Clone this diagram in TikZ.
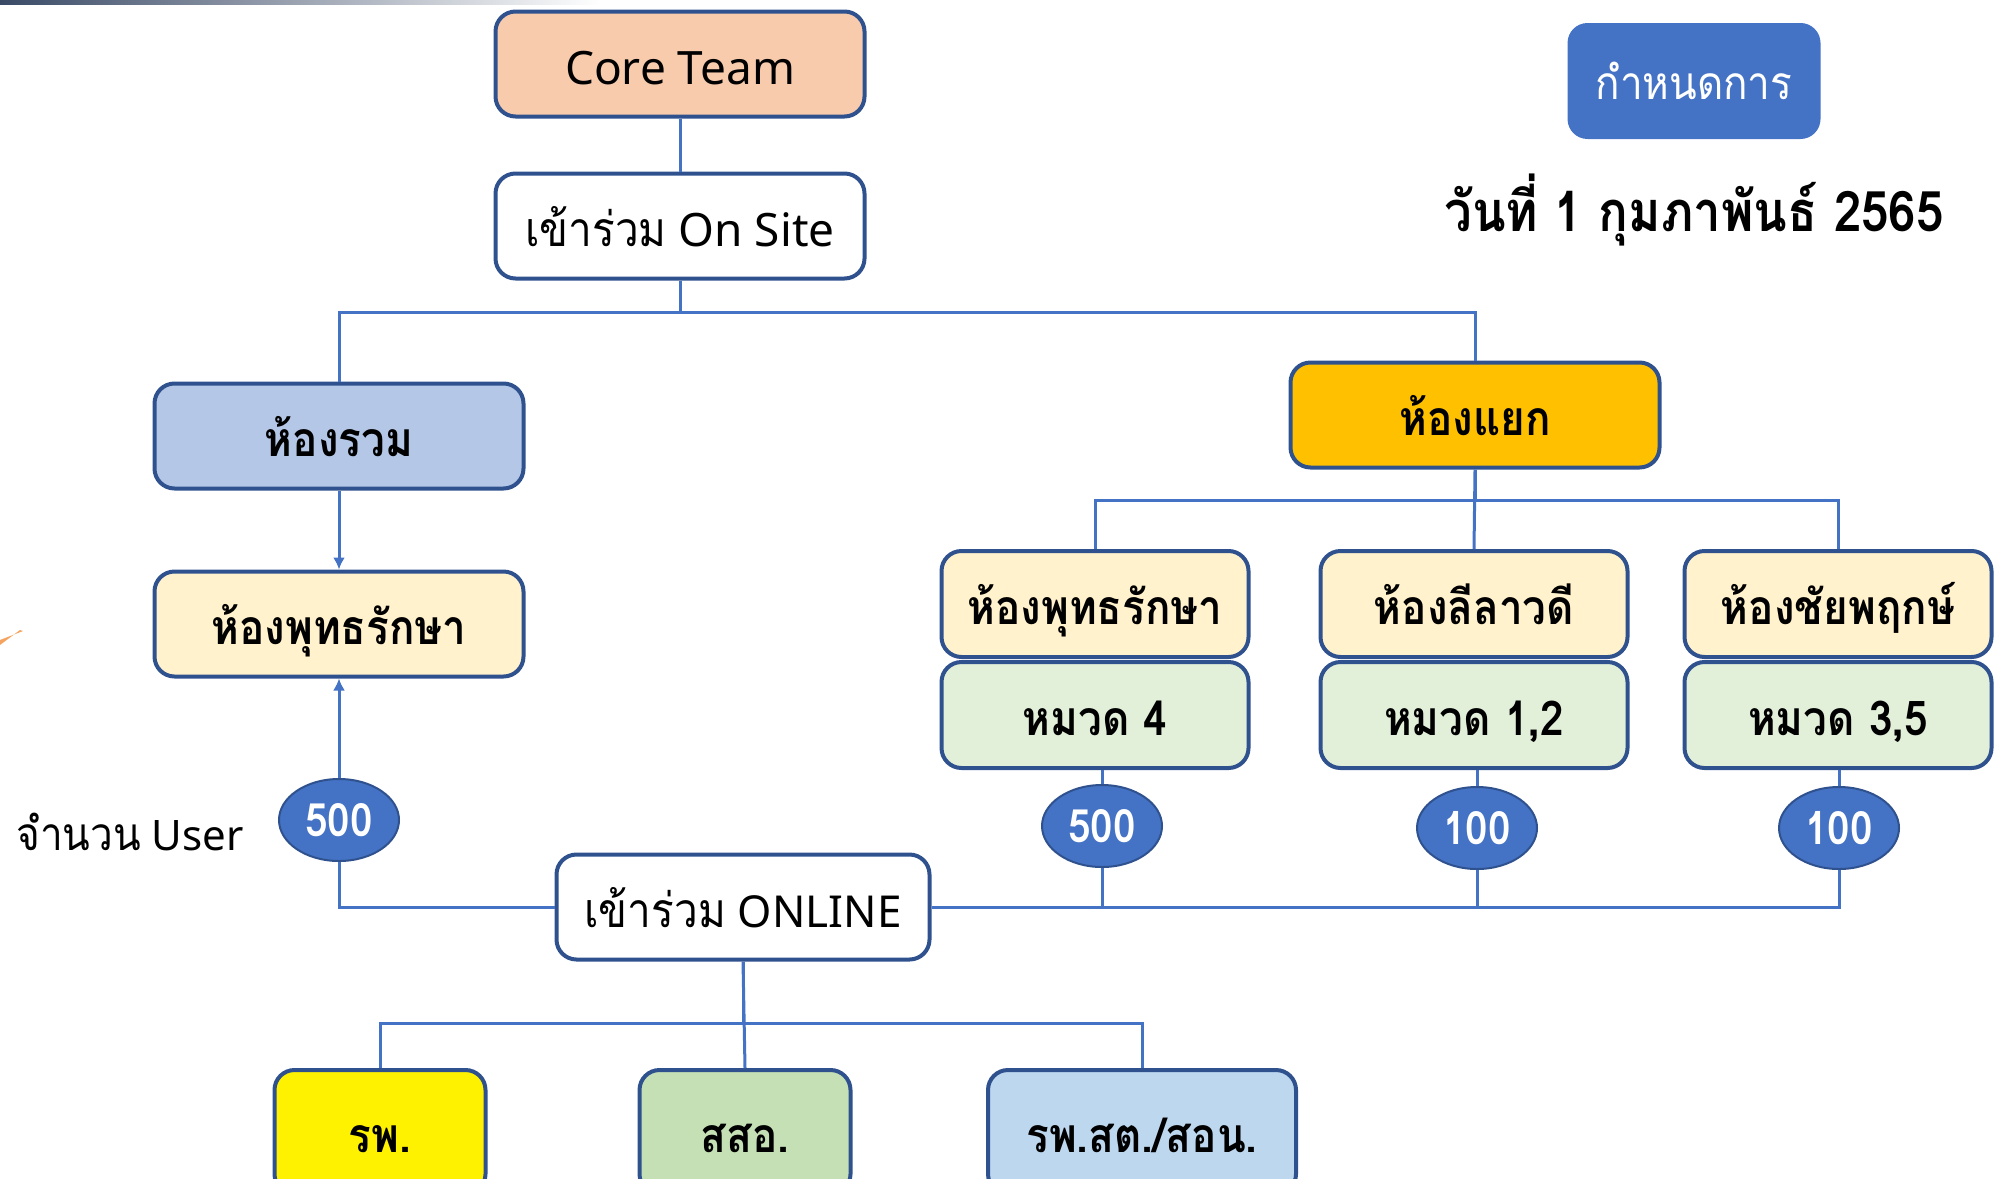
\documentclass[tikz,border=0pt]{standalone}
\usepackage{fontspec}
\setmainfont{Noto Sans}
\newfontfamily\thaifont[Script=Thai, FakeStretch=0.88]{Loma}
\usetikzlibrary{arrows.meta,shapes.geometric}
\definecolor{lineblue}{HTML}{4472C4}
\definecolor{bord}{HTML}{2F528F}
\definecolor{peach}{HTML}{F8CBAD}
\definecolor{lblue}{HTML}{B4C7E7}
\definecolor{gold}{HTML}{FFC000}
\definecolor{cream}{HTML}{FFF2CC}
\definecolor{lgreen}{HTML}{E2F0D9}
\definecolor{sgreen}{HTML}{C5E0B4}
\definecolor{sblue}{HTML}{BDD7EE}
\definecolor{navy}{HTML}{3A4A66}
\definecolor{orng}{HTML}{F4A460}
\tikzset{
  boxstyle/.style={draw=bord, line width=2pt, rounded corners=10pt, align=center,
    inner sep=0pt, text height=21pt, text depth=0.5pt, font=\fontsize{23}{27}\selectfont},
  bigbox/.style={boxstyle, minimum width=184.5pt, minimum height=52.5pt},
  thb/.style={font=\thaifont\bfseries\fontsize{24}{28}\selectfont},
  rbox/.style={boxstyle, minimum width=153.5pt, minimum height=53pt, thb},
  bbox/.style={boxstyle, minimum height=62pt, thb},
  num/.style={ellipse, draw=bord, line width=1pt, fill=lineblue, minimum width=60pt,
    minimum height=41pt, inner sep=0pt, text=white, font=\thaifont\bfseries\fontsize{23}{26}\selectfont},
  conn/.style={draw=lineblue, line width=1.5pt},
  arr/.style={conn, -{Latex[length=6pt,width=6pt]}}
}
\begin{document}
\begin{tikzpicture}[x=0.5pt,y=-0.5pt]
\useasboundingbox (0,0) rectangle (2005,1178);
\clip (0,0) rectangle (2005,1178);
% decorations
\shade[left color=navy, right color=white] (0,0) rectangle (600,4);
\fill[orng] (0,645) -- (20,630) -- (23,631) -- (0,640) -- cycle;
% nodes
\node[bigbox, fill=peach] (core) at (680,64) {Core Team};
\node[bigbox, fill=white] (onsite) at (680,226) {{\thaifont\fontsize{24}{27}\selectfont เข้าร่วม} On Site};
\node[bigbox, fill=lblue, thb] (rwm) at (339,436) {ห้องรวม};
\node[bigbox, fill=gold, thb] (yaek) at (1475,415) {ห้องแยก};
\node[bigbox, fill=cream, thb] (putt1) at (339,624) {ห้องพุทธรักษา};
\node[num] (e1) at (339,820) {500};
\node[font=\fontsize{21}{24}\selectfont] (lbl) at (130,832) {{\thaifont\fontsize{23}{24}\selectfont จำนวน} User};
\node[bigbox, fill=white, minimum width=186.5pt] (online) at (743,907) {{\thaifont\fontsize{24}{27}\selectfont เข้าร่วม} \fontsize{22}{27}\selectfont ONLINE};

\node[rbox, fill=cream] (putt2) at (1095,604) {ห้องพุทธรักษา};
\node[rbox, fill=lgreen] (m4) at (1095,715) {หมวด 4};
\node[rbox, fill=cream] (lila) at (1474,604) {ห้องลีลาวดี};
\node[rbox, fill=lgreen] (m12) at (1474,715) {หมวด 1,2};
\node[rbox, fill=cream] (chai) at (1838,604) {ห้องชัยพฤกษ์};
\node[rbox, fill=lgreen] (m35) at (1838,715) {หมวด 3,5};
\node[num] (e2) at (1102,826) {500};
\node[num] (e3) at (1477,828) {100};
\node[num] (e4) at (1839,828) {100};

\node[bbox, fill=yellow, minimum width=105.5pt] (rp) at (380,1132) {รพ.};
\node[bbox, fill=sgreen, minimum width=105.5pt] (sso) at (745,1132) {สสอ.};
\node[bbox, fill=sblue, minimum width=154pt] (rpst) at (1142,1132) {รพ.สต./สอน.};

\node[fill=lineblue, rounded corners=10pt, minimum width=126.5pt, minimum height=58pt,
  text=white, font=\thaifont\fontsize{23}{27}\selectfont] (kamnot) at (1694,81) {กำหนดการ};
\node[font=\thaifont\bfseries\fontsize{28}{32}\selectfont] (date) at (1694,210) {วันที่ 1 กุมภาพันธ์ 2565};

% connectors
\draw[conn] (core.south) -- (onsite.north);
\draw[conn] (onsite.south) -- ++(0,32) -| (rwm.north);
\draw[conn] (onsite.south) -- ++(0,32) -| (yaek.north);
\draw[arr] (rwm.south) -- (putt1.north);
\draw[arr] (e1.north) -- (putt1.south);
\draw[conn] (yaek.south) -- ++(0,31) -| (putt2.north);
\draw[conn] (yaek.south) -- ++(0,31) -| (chai.north);
\draw[conn] (yaek.south) -- (lila.north);
\draw[conn] (online.west) -| (e1.south);
\draw[conn] (online.east) -| (e4.south);
\draw[conn] (online.east) -| (e2.south);
\draw[conn] (online.east) -| (e3.south);
\draw[conn] (e2.north) -- (e2 |- m4.south);
\draw[conn] (e3.north) -- (e3 |- m12.south);
\draw[conn] (e4.north) -- (e4 |- m35.south);
\draw[conn] (online.south) -- ++(0,62) -| (rp.north);
\draw[conn] (online.south) -- ++(0,62) -| (rpst.north);
\draw[conn] (online.south) -- (sso.north);
\end{tikzpicture}
\end{document}
